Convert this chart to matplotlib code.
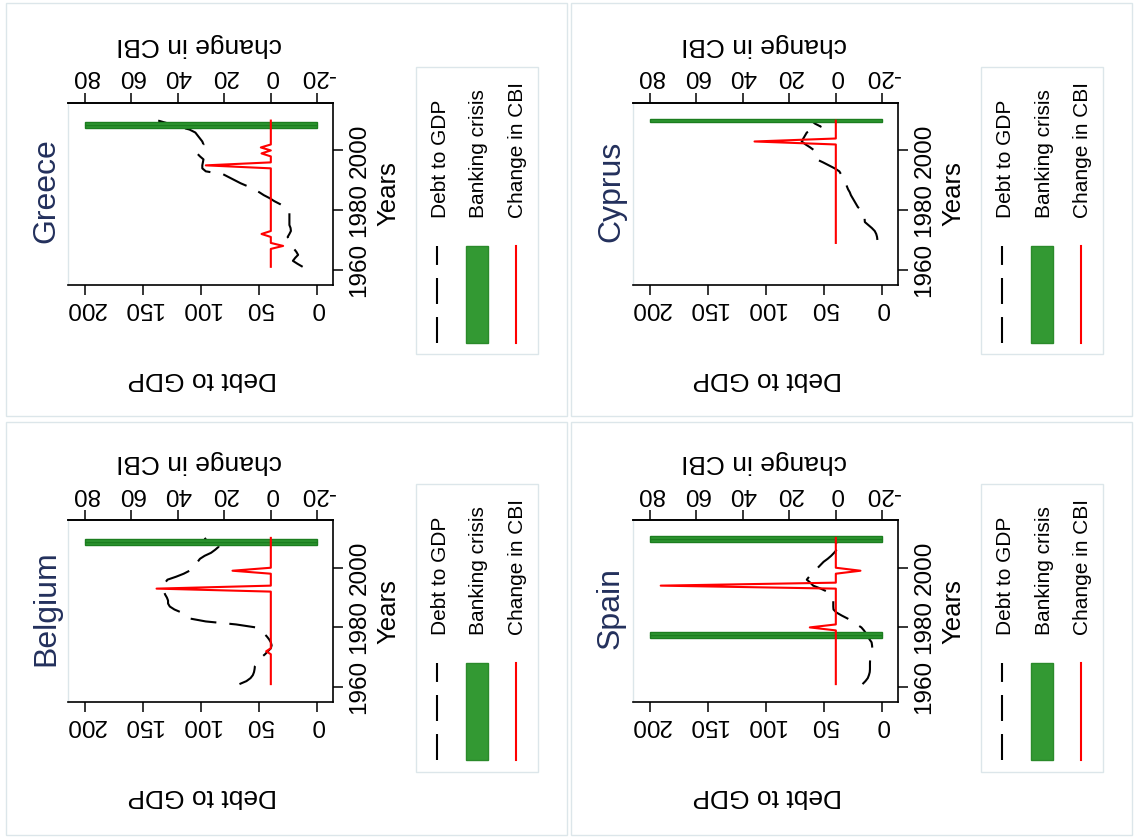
import matplotlib.pyplot as plt
from matplotlib.transforms import Affine2D
from matplotlib.patches import Rectangle
from matplotlib.lines import Line2D

plt.rcParams['font.family'] = ['Liberation Sans', 'DejaVu Sans']
plt.rcParams['lines.scale_dashes'] = False
plt.rcParams['axes.unicode_minus'] = False

W, H = 1137, 840

# ---- data -------------------------------------------------------------
years = list(range(1961, 2011))

greece_debt = [12.6, 17, 21, 19, 16.5, 18, 20, 22, 23.5, 24.5,
               25.5, 24, 22.7, 23, 24, 24, 24, 24, 24, 24.5,
               28, 32, 37, 41, 46, 50, 55, 60, 66, 71,
               76, 81, 96, 99, 99, 98.5, 98, 101, 103.5, 104,
               101, 98, 99, 101, 103, 105, 110, 120, 128, 137]
greece_cbi_years = [1968, 1972, 1995, 1999, 2001]
greece_cbi_vals = [-5.3, 4, 28, 4, 4.3]
greece_crisis = [2008, 2009]

belgium_debt = [67, 61, 57.5, 55.5, 54.5, 54, 53.7, 52, 50, 48,
                45, 42.5, 40, 39.3, 40, 41.5, 43.5, 46, 49, 53,
                70, 96, 110, 114, 117, 123, 127, 128.5, 128.5, 129.5,
                131, 132, 133.5, 132.5, 131, 129, 121.5, 115, 110, 107,
                105, 103, 101, 97, 91.5, 88, 85, 89, 95, 97]
belgium_cbi_years = [1972, 1993, 1999]
belgium_cbi_vals = [2, 49.2, 16.5]
belgium_crisis = [2008, 2009]

spain_debt = [17, 14.5, 12.5, 11.5, 10.8, 10.6, 10.6, 10.6, 10.5, 10,
              9.5, 9, 8.6, 8.8, 9.2, 11, 12.5, 14, 15.8, 18,
              22, 25.5, 30, 35, 39.5, 42, 42.2, 42.2, 42.2, 43.5,
              45, 47.5, 53, 59.5, 62, 65, 63, 61, 58, 55.5,
              53, 50.5, 47, 44, 41.5, 39.3, 36, 34.5, 45, 55]
spain_cbi_years = [1980, 1994, 1999]
spain_cbi_vals = [11.2, 75.4, -10.6]
spain_crisis = [1977, 1978, 2009, 2010]

cyprus_debt_years = list(range(1970, 2011))
cyprus_debt = [4.2, 4.5, 5.2, 6.5, 9, 12, 15, 15.2, 15.3, 15.5,
               18, 21, 22.5, 24, 25.5, 27, 28, 29.5, 30.5, 31.5,
               33, 34.5, 35.5, 37, 41, 46, 51, 56.5, 57.5, 58,
               58.5, 62, 66, 69.4, 68, 66.5, 65, 60, 53, 58, 61]
cyprus_cbi_years_all = list(range(1969, 2011))
cyprus_cbi_years = [2003]
cyprus_cbi_vals = [35]
cyprus_crisis = [2010]

crisis_top = 200


def cbi_series(all_years, spike_years, spike_vals):
    vals = dict(zip(spike_years, spike_vals))
    return [vals.get(y, 0) for y in all_years]


panels = [
    ('Greece', 0, 0, years, greece_debt, years,
     cbi_series(years, greece_cbi_years, greece_cbi_vals), greece_crisis),
    ('Cyprus', 565, 0, cyprus_debt_years, cyprus_debt, cyprus_cbi_years_all,
     cbi_series(cyprus_cbi_years_all, cyprus_cbi_years, cyprus_cbi_vals), cyprus_crisis),
    ('Belgium', 0, 417.3, years, belgium_debt, years,
     cbi_series(years, belgium_cbi_years, belgium_cbi_vals), belgium_crisis),
    ('Spain', 565, 417.3, years, spain_debt, years,
     cbi_series(years, spain_cbi_years, spain_cbi_vals), spain_crisis),
]

# ---- styles -----------------------------------------------------------
green_face = '#2e9631'
green_edge = '#1b7d1f'
navy = '#23305c'
frame = '#dce6ea'
dash = (0, (18.7, 9.4))

fig = plt.figure(figsize=(W / 100, H / 100), dpi=100)
fig.patch.set_facecolor('white')

# pixel coordinates, y measured downward
px = Affine2D().scale(1 / W, -1 / H).translate(0, 1) + fig.transFigure


def ptext(x, y, s, **kw):
    fig.text(x, y, s, transform=px, rotation_mode='anchor', **kw)


# light frames around the four graphs
for x0, y0 in [(6, 3), (571, 3), (6, 422), (571, 422)]:
    fig.add_artist(Rectangle((x0, y0), 561, 413, transform=px, fill=False,
                             edgecolor=frame, lw=1))

for name, ox, oy, yrs, debt, cyrs, cbi, crisis in panels:
    l, r, t, b = 68.3 + ox, 333.3 + ox, 102.7 + oy, 285.0 + oy
    ax = fig.add_axes([l / W, 1 - b / H, (r - l) / W, (b - t) / H])

    ax.plot(debt, yrs, color='black', lw=1.5, ls=dash, zorder=2)
    ax.barh(crisis, [crisis_top] * len(crisis), height=1, left=0,
            color=green_face, edgecolor=green_edge, lw=1, zorder=3)
    ax.set_xlim(214.4, -13.8)
    ax.set_ylim(1954.9, 2016.0)

    ax.set_xticks([0, 50, 100, 150, 200])
    ax.tick_params(axis='x', direction='out', length=7, width=1.1,
                   labelsize=17.5, pad=1.5, labelrotation=180)
    ax.yaxis.tick_right()
    ax.set_yticks([1960, 1980, 2000])
    ax.tick_params(axis='y', direction='out', length=7.5, width=1.1,
                   labelsize=17.5, pad=3.5, labelrotation=90)
    for tk in ax.yaxis.get_major_ticks():
        tk.label2.set_va('center')
    for side in ['top', 'right', 'bottom']:
        ax.spines[side].set_linewidth(1.2)
    ax.spines['left'].set_color(frame)
    ax.spines['left'].set_linewidth(1)

    ax2 = ax.twiny()
    ax2.plot(cbi, cyrs, color='red', lw=1.5, zorder=4)
    ax2.set_xlim(87.2, -26.9)
    ax2.set_xticks([-20, 0, 20, 40, 60, 80])
    ax2.tick_params(axis='x', direction='out', length=7, width=1.1,
                    labelsize=17.5, pad=4, labelrotation=180)
    for side in ['left', 'right', 'bottom']:
        ax2.spines[side].set_visible(False)
    ax2.spines['top'].set_linewidth(1.2)

    # titles
    ptext(46 + ox, 191 + oy, name, rotation=90, ha='center', va='center',
          fontsize=23, color=navy)
    ptext(199 + ox, 45 + oy, 'change in CBI', rotation=180, ha='center',
          va='center', fontsize=19)
    ptext(202 + ox, 379 + oy, 'Debt to GDP', rotation=180, ha='center',
          va='center', fontsize=19)
    ptext(388 + ox, 194 + oy, 'Years', rotation=90, ha='center',
          va='center', fontsize=18.5)

    # legend
    fig.add_artist(Rectangle((415.7 + ox, 66.7 + oy), 122.6, 287.7,
                             transform=px, fill=False, edgecolor=frame, lw=1))
    labels = ['Debt to GDP', 'Banking crisis', 'Change in CBI']
    for i, lab in enumerate(labels):
        ptext(446 + 38.5 * i + ox, 217.7 + oy, lab, rotation=90, ha='left',
              va='baseline', fontsize=15)
    fig.add_artist(Line2D([437 + ox, 437 + ox], [342.7 + oy, 245.7 + oy],
                          transform=px, color='black', lw=1.5, ls=dash))
    fig.add_artist(Rectangle((465.7 + ox, 245.7 + oy), 22, 97, transform=px,
                             facecolor='#339933', edgecolor='#2a8a2a', lw=1))
    fig.add_artist(Line2D([516 + ox, 516 + ox], [342.7 + oy, 245.7 + oy],
                          transform=px, color='red', lw=1.5))

fig.savefig('out.png', dpi=100, facecolor='white')
